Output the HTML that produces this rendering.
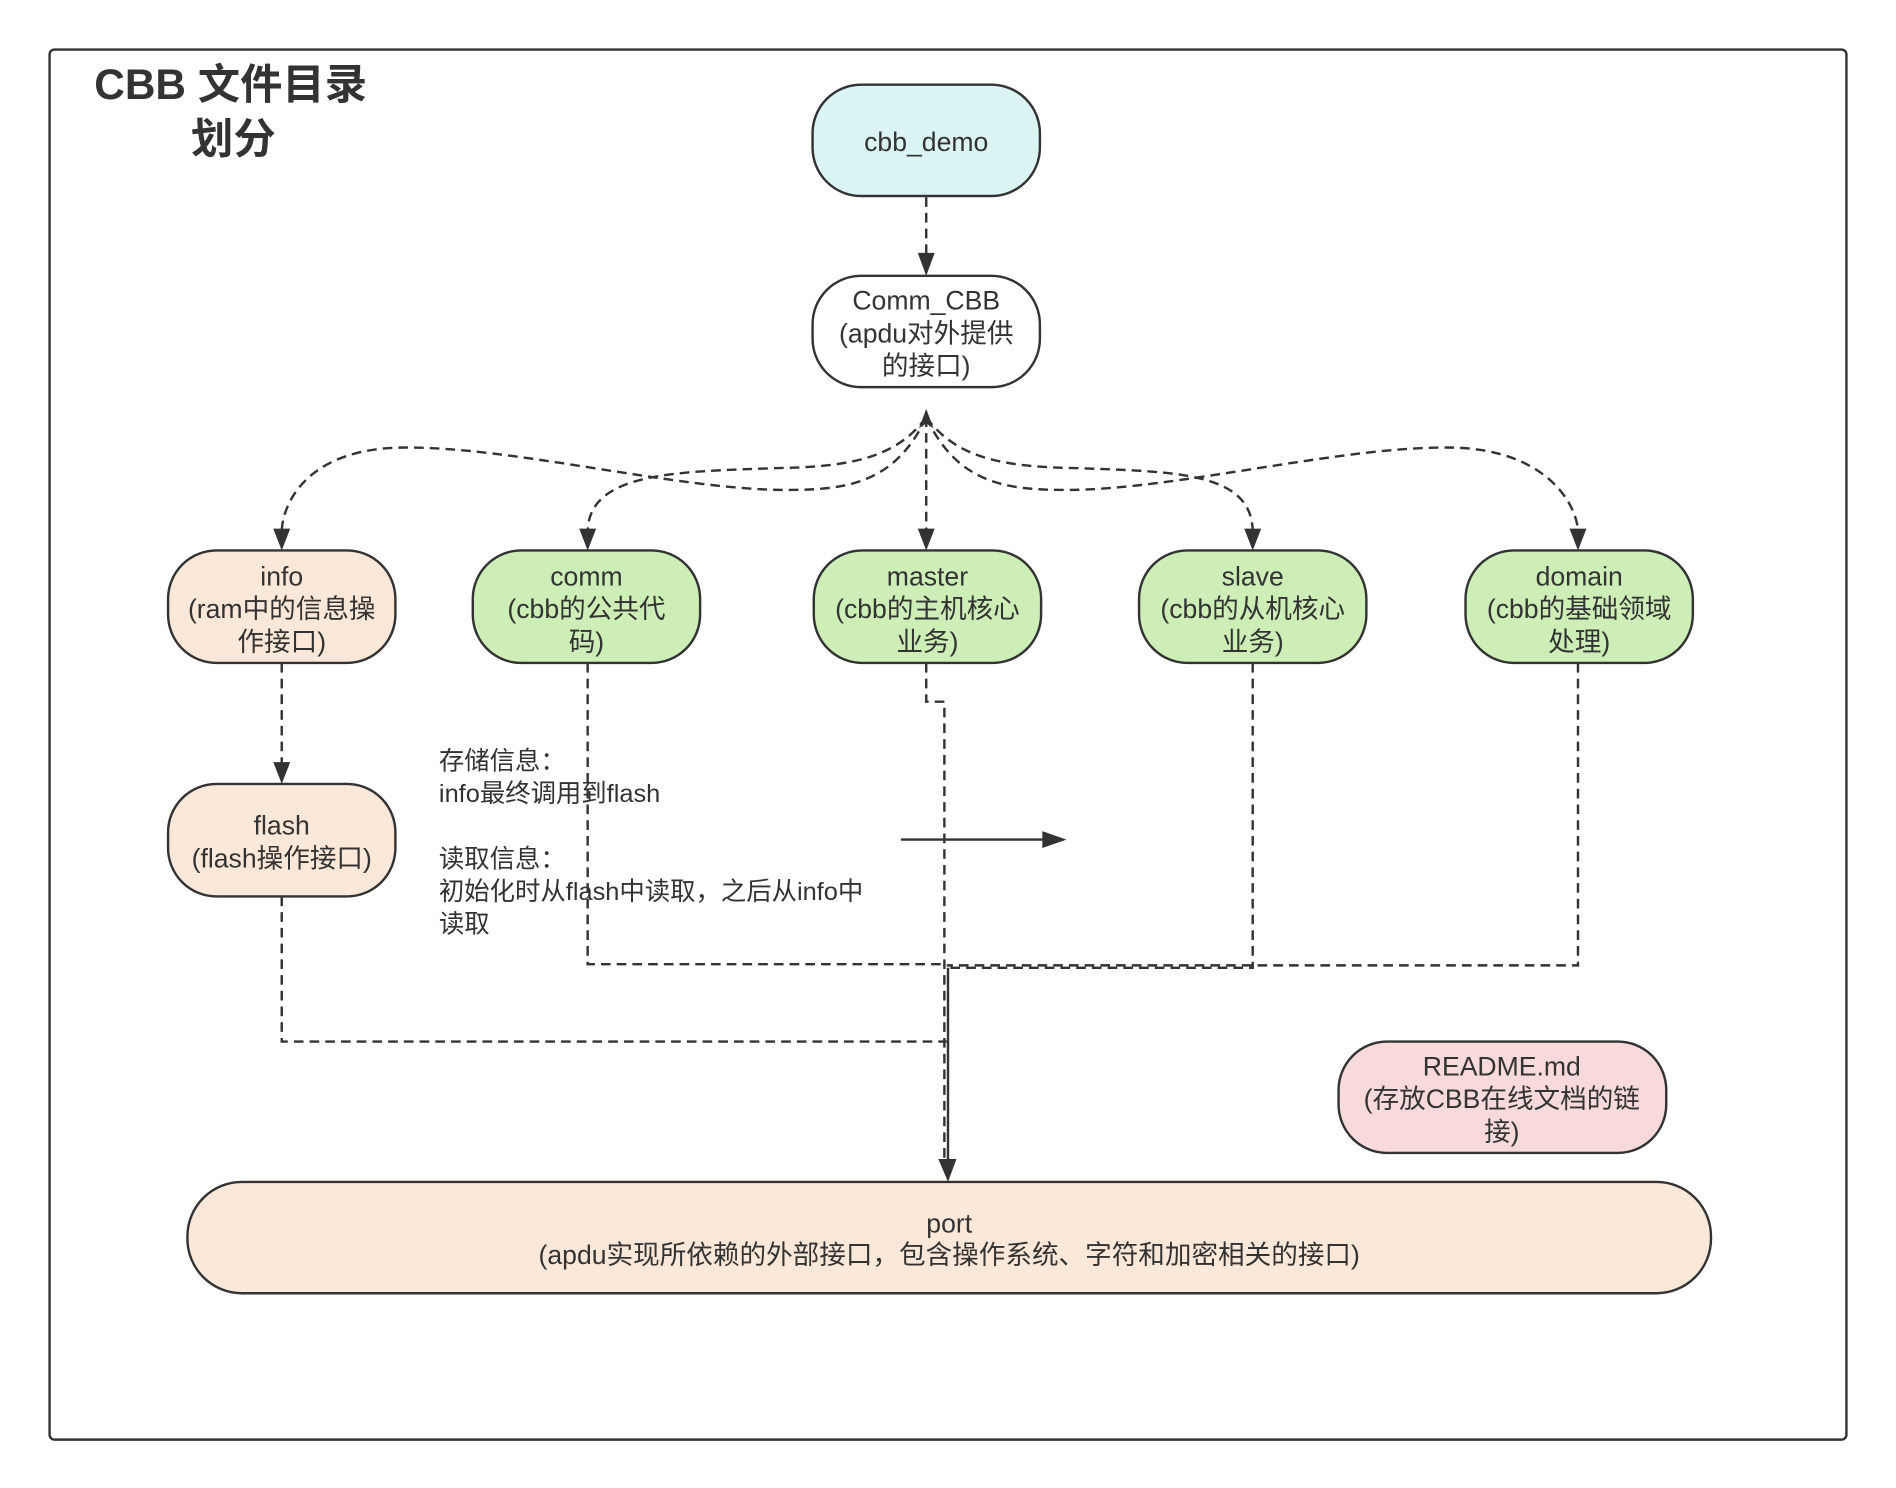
<!DOCTYPE html>
<html><head><meta charset="utf-8"><style>
html,body{margin:0;padding:0;background:#fff;}
svg{display:block;}
text{font-family:"Liberation Sans","Noto Sans CJK SC",sans-serif;fill:#333;}
</style></head><body>
<svg width="1896" height="1488" viewBox="0 0 1568 1230" preserveAspectRatio="none" xmlns="http://www.w3.org/2000/svg">
<rect x="41" y="41" width="1486" height="1149" rx="4" fill="#fff" stroke="#333" stroke-width="2"/>
<text x="78" y="82" font-size="35" font-weight="bold">CBB 文件目录</text>
<text x="158" y="127" font-size="35" font-weight="bold">划分</text>

<g stroke="#333" stroke-width="2" fill="none" stroke-dasharray="8,5">
<path d="M766,163 V212"/>
<path d="M766,345 V440"/>
<path d="M766,345 C740,400 700,405 650,405 C560,405 420,368 330,370 C250,372 233,420 233,440"/>
<path d="M766,345 C740,380 700,386 640,387 C560,390 486,390 486,440"/>
<path d="M766,345 C792,400 832,405 882,405 C972,405 1112,368 1202,370 C1282,372 1305,420 1305,440"/>
<path d="M766,345 C792,380 832,386 892,387 C972,390 1036,390 1036,440"/>
<path d="M233,548 V632"/>
<path d="M486,548 V797 H783"/>
<path d="M1036,548 V800 H783"/>
<path d="M1305,548 V798 H783"/>
<path d="M766,548 V580 H781 V960"/>
<path d="M233,741 V861 H783"/>
</g>
<path d="M784,800 V960" stroke="#333" stroke-width="2" fill="none"/>
<g fill="#333">
<path d="M759,209 L773,209 L766,228 z"/>
<path d="M759,437 L773,437 L766,455 z"/>
<path d="M226,437 L240,437 L233,455 z"/>
<path d="M479,437 L493,437 L486,455 z"/>
<path d="M1029,437 L1043,437 L1036,455 z"/>
<path d="M1298,437 L1312,437 L1305,455 z"/>
<path d="M226,630 L240,630 L233,648 z"/>
<path d="M776,958 L791,958 L784,977 z"/>
<path d="M766,338 L760,354 L766,350 L772,354 z"/>
<path d="M862,687 L862,701 L882,694 z"/>
</g>
<path d="M745,694 H866" stroke="#333" stroke-width="2"/>

<g stroke="#333" stroke-width="2">
<rect x="672" y="70" width="188" height="92" rx="40" fill="#dbf4f4"/>
<rect x="672" y="228" width="188" height="92" rx="40" fill="#fff"/>
<rect x="139" y="455" width="188" height="93" rx="40" fill="#fce8d8"/>
<rect x="391" y="455" width="188" height="93" rx="40" fill="#cdeeb6"/>
<rect x="673" y="455" width="188" height="93" rx="40" fill="#cdeeb6"/>
<rect x="942" y="455" width="188" height="93" rx="40" fill="#cdeeb6"/>
<rect x="1212" y="455" width="188" height="93" rx="40" fill="#cdeeb6"/>
<rect x="139" y="648" width="188" height="93" rx="40" fill="#fce8d8"/>
<rect x="1107" y="861" width="271" height="92" rx="40" fill="#f9dada"/>
<rect x="155" y="977" width="1260" height="92" rx="45" fill="#fce8d8"/>
</g>

<g font-size="22" text-anchor="middle">
<text x="766" y="125">cbb_demo</text>
<text x="766" y="256">Comm_CBB</text><text x="766" y="283">(apdu对外提供</text><text x="766" y="310">的接口)</text>
<text x="233" y="484">info</text><text x="233" y="511">(ram中的信息操</text><text x="233" y="538">作接口)</text>
<text x="485" y="484">comm</text><text x="485" y="511">(cbb的公共代</text><text x="485" y="538">码)</text>
<text x="767" y="484">master</text><text x="767" y="511">(cbb的主机核心</text><text x="767" y="538">业务)</text>
<text x="1036" y="484">slave</text><text x="1036" y="511">(cbb的从机核心</text><text x="1036" y="538">业务)</text>
<text x="1306" y="484">domain</text><text x="1306" y="511">(cbb的基础领域</text><text x="1306" y="538">处理)</text>
<text x="233" y="690">flash</text><text x="233" y="717">(flash操作接口)</text>
<text x="1242" y="889">README.md</text><text x="1242" y="916">(存放CBB在线文档的链</text><text x="1242" y="943">接)</text>
<text x="785" y="1019">port</text><text x="785" y="1045">(apdu实现所依赖的外部接口，包含操作系统、字符和加密相关的接口)</text>
</g>
<g font-size="21">
<text x="363" y="636">存储信息：</text>
<text x="363" y="663">info最终调用到flash</text>
<text x="363" y="717">读取信息：</text>
<text x="363" y="744">初始化时从flash中读取，之后从info中</text>
<text x="363" y="771">读取</text>
</g>
</svg>
</body></html>
